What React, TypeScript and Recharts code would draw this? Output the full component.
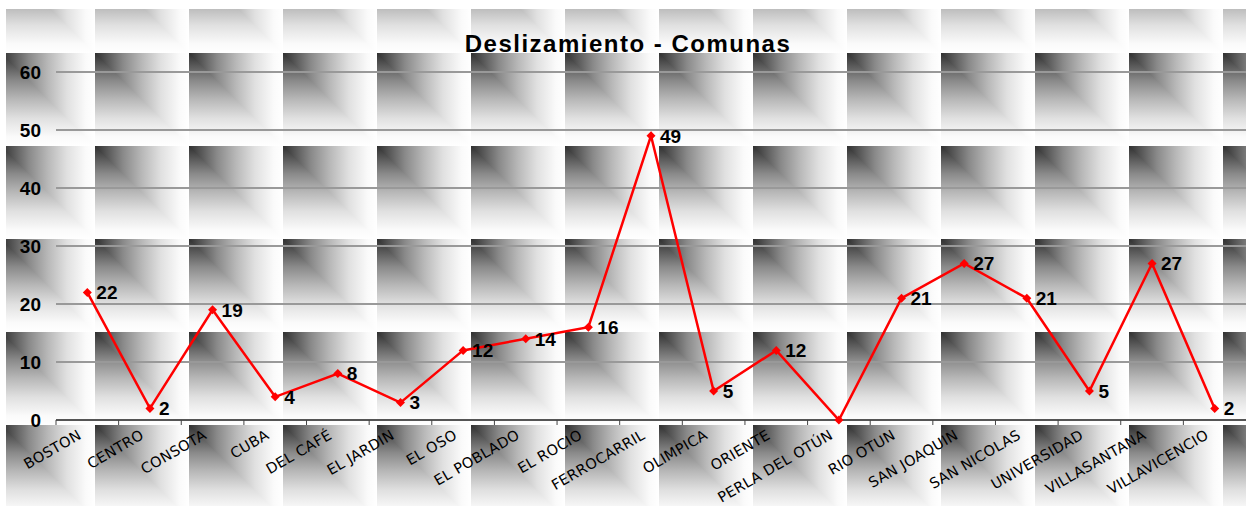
import React from "react";
import { LineChart, Line, XAxis, YAxis, CartesianGrid, LabelList } from "recharts";

const comunas = [
  "BOSTON", "CENTRO", "CONSOTA", "CUBA", "DEL CAFÉ", "EL JARDIN", "EL OSO",
  "EL POBLADO", "EL ROCIO", "FERROCARRIL", "OLIMPICA", "ORIENTE", "PERLA DEL OTÚN",
  "RIO OTUN", "SAN JOAQUIN", "SAN NICOLAS", "UNIVERSIDAD", "VILLASANTANA", "VILLAVICENCIO",
];
const deslizamientos = [22, 2, 19, 4, 8, 3, 12, 14, 16, 49, 5, 12, 0, 21, 27, 21, 5, 27, 2];
const yTicks = [0, 10, 20, 30, 40, 50, 60];

const data = comunas.map((comuna, i) => ({ comuna, valor: deslizamientos[i] }));

const W = 1246;
const H = 506;
const PLOT_LEFT = 56;
const BAND = (W - PLOT_LEFT) / comunas.length;
const NUM_FONT = "'Liberation Sans', Arial, sans-serif";

// tick mark sits on the band boundary, label hangs under it at an angle
const CategoryTick = (props: any) => {
  const { x, y, payload } = props;
  return (
    <g transform={`translate(${x},${y})`}>
      <line x1={-BAND / 2} x2={-BAND / 2} y1={0} y2={5} stroke="#444" strokeWidth={1} />
      <text
        transform="translate(-5,18) rotate(-30)"
        textAnchor="end"
        fontSize={14.5}
        letterSpacing={0.3}
        fontFamily="'Comic Sans MS', 'DejaVu Sans', sans-serif"
        fill="#000"
      >
        {payload.value}
      </text>
    </g>
  );
};

const Diamond = (props: any) => {
  const { cx, cy } = props;
  if (cx == null || cy == null) return null;
  const r = 4.5;
  return (
    <polygon
      points={`${cx},${cy - r} ${cx + r},${cy} ${cx},${cy + r} ${cx - r},${cy}`}
      fill="#ff0000"
    />
  );
};

const PointLabel = (props: any) => {
  const { x, y, value } = props;
  if (!value) return null;
  return (
    <text x={x + 9} y={y} dy="0.36em" fontSize={19} fontWeight="bold" fontFamily={NUM_FONT} fill="#000">
      {value}
    </text>
  );
};

const stops = [
  ["0", "#303030"],
  ["0.3", "#8a8a8a"],
  ["0.5", "#b8b8b8"],
  ["0.7", "#e0e0e0"],
  ["0.9", "#fafafa"],
  ["1", "#ffffff"],
];

// tiled corner-gradient backdrop
const Backdrop = () => (
  <svg width={W} height={H} style={{ position: "absolute", left: 0, top: 0 }}>
    <defs>
      <linearGradient id="gx" x1="0" y1="0" x2="1" y2="0">
        {stops.map(([o, c]) => <stop key={o} offset={o} stopColor={c} />)}
      </linearGradient>
      <linearGradient id="gy" x1="0" y1="0" x2="0" y2="1">
        {stops.map(([o, c]) => <stop key={o} offset={o} stopColor={c} />)}
      </linearGradient>
      <pattern id="tile" x={1} y={-40} width={94} height={93} patternUnits="userSpaceOnUse">
        <rect x={0} y={0} width={94} height={93} fill="url(#gx)" />
        <polygon points="0,0 0,93 94,93" fill="url(#gy)" />
      </pattern>
    </defs>
    <rect x={0} y={0} width={W} height={H} fill="#fff" />
    <rect x={6} y={9} width={W - 6} height={H - 9} fill="url(#tile)" />
  </svg>
);

export default function App() {
  return (
    <div style={{ position: "absolute", left: 0, top: 0, width: W, height: H, overflow: "hidden" }}>
      <Backdrop />
      <div
        style={{
          position: "absolute",
          top: 32,
          left: 5,
          width: W,
          textAlign: "center",
          fontFamily: NUM_FONT,
          fontWeight: "bold",
          fontSize: 24,
          lineHeight: "24px",
          letterSpacing: 1.5,
          color: "#000",
          zIndex: 2,
        }}
      >
        Deslizamiento - Comunas
      </div>
      <div style={{ position: "absolute", left: 0, top: 0 }}>
        <LineChart width={W} height={H} data={data} margin={{ top: 72, right: 0, bottom: 0, left: 0 }}>
          <CartesianGrid vertical={false} stroke="#999" strokeWidth={2} />
          <XAxis
            dataKey="comuna"
            scale="band"
            height={86}
            interval={0}
            tickLine={false}
            tickSize={0}
            tickMargin={0}
            axisLine={{ stroke: "#555", strokeWidth: 2 }}
            tick={<CategoryTick />}
          />
          <YAxis
            width={PLOT_LEFT}
            domain={[0, 60]}
            ticks={yTicks}
            axisLine={false}
            tickLine={false}
            tickSize={0}
            tickMargin={15}
            tick={{ fill: "#000", fontSize: 19, fontWeight: "bold", fontFamily: NUM_FONT }}
          />
          <Line
            dataKey="valor"
            stroke="#ff0000"
            strokeWidth={2.5}
            dot={<Diamond />}
            activeDot={false}
            isAnimationActive={false}
          >
            <LabelList dataKey="valor" content={<PointLabel />} />
          </Line>
        </LineChart>
      </div>
    </div>
  );
}
